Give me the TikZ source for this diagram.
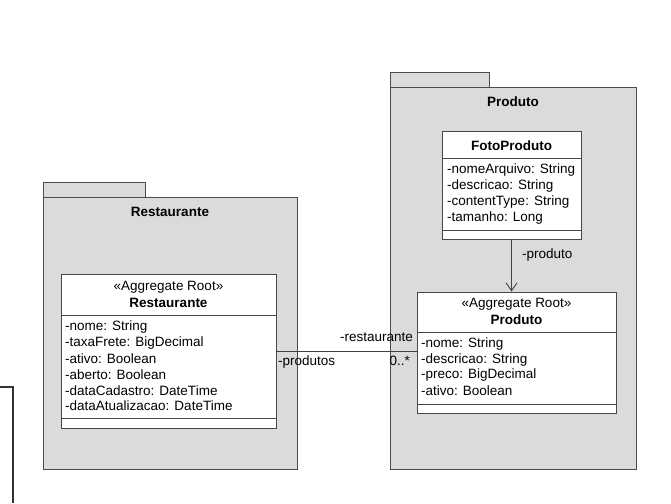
\documentclass[tikz,border=0pt]{standalone}
\usepackage{fontspec}
\setmainfont{Liberation Sans}
\usepackage{tikz}
\usetikzlibrary{arrows.meta}

\begin{document}
\begin{tikzpicture}[x=1pt, y=-1pt,
  font=\fontsize{13.5}{16}\selectfont,
  pkg/.style={draw=black!70, fill=black!14, line width=0.9pt},
  cls/.style={draw=black!72, fill=white, line width=0.9pt, inner sep=0pt},
  sep/.style={draw=black!72, line width=0.9pt},
  attr/.style={anchor=west, inner sep=0pt}]
\useasboundingbox (0,0) rectangle (671,503);

% stray frame at the left
\draw[line width=1.8pt, black!80] (0,387) -- (13,387) -- (13,503);

% package Restaurante
\draw[pkg] (43,182) rectangle (145,197);
\draw[pkg] (43,197) rectangle (297,469);
\draw (170,212) node[font=\fontsize{13.5}{16}\bfseries] {Restaurante};

% package Produto
\draw[pkg] (390,72) rectangle (489,87);
\draw[pkg] (390,87) rectangle (636,469);
\draw (513,102) node[font=\fontsize{13.5}{16}\bfseries] {Produto};

% class Restaurante
\node[cls, minimum width=215pt, minimum height=154pt] (restaurante) at (168.5,351) {};
\draw[sep] (61,315) -- (276,315);
\draw[sep] (61,418) -- (276,418);
\draw (168.5,287) node {«Aggregate Root»};
\draw (168.5,303) node[font=\fontsize{13.5}{16}\bfseries] {Restaurante};
\foreach \t [count=\i from 0] in {-nome: String, -taxaFrete: BigDecimal, -ativo: Boolean,
    -aberto: Boolean, -dataCadastro: DateTime, -dataAtualizacao: DateTime}
  \draw (65,327+15.8*\i) node[attr] {\t};

% class FotoProduto
\node[cls, minimum width=139pt, minimum height=108pt] (fotoproduto) at (511.5,185) {};
\draw[sep] (442,158) -- (581,158);
\draw[sep] (442,230) -- (581,230);
\draw (511.5,146) node[font=\fontsize{13.5}{16}\bfseries] {FotoProduto};
\foreach \t [count=\i from 0] in {-nomeArquivo: String, -descricao: String,
    -contentType: String, -tamanho: Long}
  \draw (447,170+16*\i) node[attr] {\t};

% class Produto
\node[cls, minimum width=199pt, minimum height=121pt] (produto) at (516.5,352.5) {};
\draw[sep] (417,332) -- (616,332);
\draw[sep] (417,404) -- (616,404);
\draw (516.5,304) node {«Aggregate Root»};
\draw (516.5,320) node[font=\fontsize{13.5}{16}\bfseries] {Produto};
\foreach \t [count=\i from 0] in {-nome: String, -descricao: String,
    -preco: BigDecimal, -ativo: Boolean}
  \draw (421,344+15.6*\i) node[attr] {\t};

% associations
\draw[line width=0.9pt, black!75] (restaurante.east) -- (restaurante.east -| produto.west);
\draw (278,362) node[attr] {-produtos};
\draw (413,337) node[anchor=east, inner sep=0pt] {-restaurante};
\draw (410,361) node[anchor=east, inner sep=0pt] {0..*};

\draw[line width=0.9pt, black!75, -{Straight Barb[length=8pt, width=11pt]}]
  (fotoproduto.south) -- (fotoproduto.south |- produto.north);
\draw (522,255) node[attr] {-produto};
\end{tikzpicture}
\end{document}
